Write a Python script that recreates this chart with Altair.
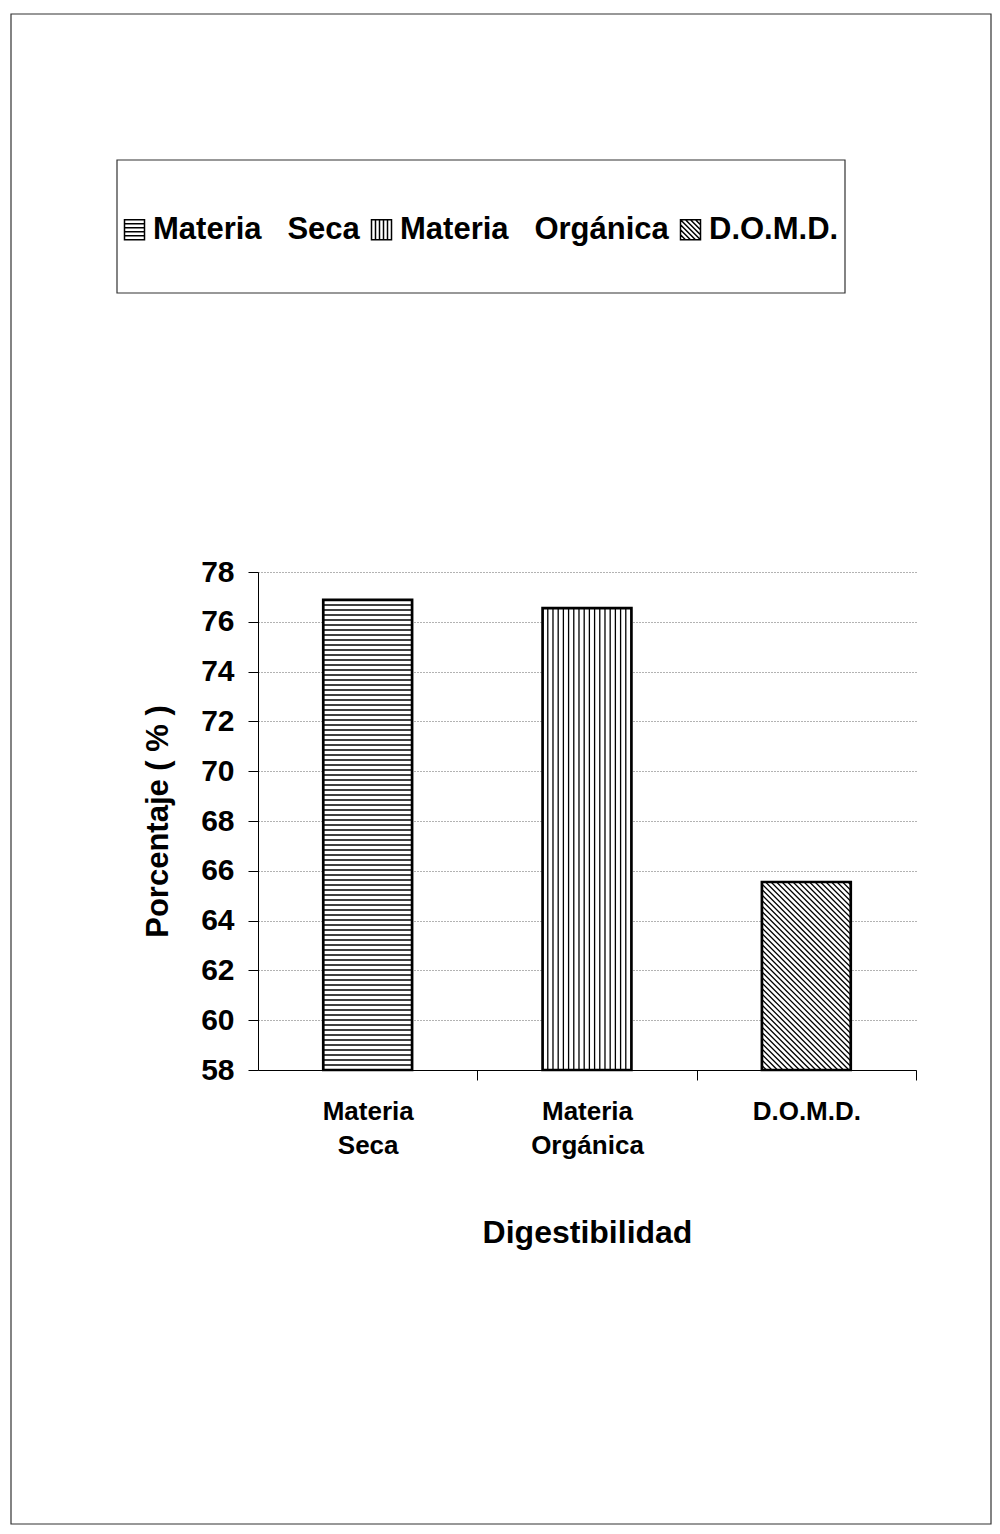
import altair as alt
import numpy as np
import pandas as pd

# ---- data ----
CATS = ["Materia Seca", "Materia Orgánica", "D.O.M.D."]
VALUES = [76.88, 76.55, 65.55]
Y_TICKS = [58, 60, 62, 64, 66, 68, 70, 72, 74, 76, 78]
X_TITLE = "Digestibilidad"
Y_TITLE = "Porcentaje ( % )"

# ---- style ----
PATTERNS = ["horizontal", "vertical", "diagonal"]
W, H = 658, 498
PAD = {"left": 250, "top": 564, "right": 76, "bottom": 455}
PAD_INNER = 0.595
FONT = "Liberation Sans"
Y_MIN, Y_MAX = Y_TICKS[0], Y_TICKS[-1]
N = len(CATS)
KX = W / N                      # px per x-unit of the hatch scale
KY = H / (Y_MAX - Y_MIN)        # px per y-unit

# legend symbols (unit square paths with the same hatching)
SYMBOL_PATHS = {
    "horizontal": "M-1,-1H1V1H-1Z M-1,-0.6H1 M-1,-0.2H1 M-1,0.2H1 M-1,0.6H1",
    "vertical": "M-1,-1H1V1H-1Z M-0.6,-1V1 M-0.2,-1V1 M0.2,-1V1 M0.6,-1V1",
    "diagonal": ("M-1,-1H1V1H-1Z M-1,-1L1,1 M-1,-0.5L0.5,1 M-1,0L0,1 M-1,0.5L-0.5,1 "
                 "M-0.5,-1L1,0.5 M0,-1L1,0 M0.5,-1L1,-0.5"),
}

df = pd.DataFrame({"cat": CATS, "value": VALUES})

# ---- hatch lines derived from the bar values ----
rows = []
for i, (v, pat) in enumerate(zip(VALUES, PATTERNS)):
    u0 = i + PAD_INNER / 2
    u1 = i + 1 - PAD_INNER / 2
    xL, xR = u0 * KX, u1 * KX
    yT, yB = (Y_MAX - v) * KY, H
    if pat == "horizontal":
        s = 5.0
        yy = yB - s
        while yy > yT + 1.5:
            rows.append(dict(u=u0, u2=u1, y=Y_MAX - yy / KY, y2=Y_MAX - yy / KY))
            yy -= s
    elif pat == "vertical":
        s = 5.2
        xx = xL + s
        while xx < xR - 1.5:
            rows.append(dict(u=xx / KX, u2=xx / KX, y=Y_MIN, y2=v))
            xx += s
    else:
        s = 5.5
        c = yT - xR + s / 2
        while c < yB - xL:
            xs = max(xL, yT - c)
            xe = min(xR, yB - c)
            if xe > xs:
                rows.append(dict(u=xs / KX, u2=xe / KX,
                                 y=Y_MAX - (xs + c) / KY, y2=Y_MAX - (xe + c) / KY))
            c += s
hatch = pd.DataFrame(rows)

yscale = alt.Scale(domain=[Y_MIN, Y_MAX], nice=False, zero=False)
xscale = alt.Scale(domain=CATS, paddingInner=PAD_INNER, paddingOuter=PAD_INNER / 2)
STEP = W / N

y_axis = alt.Axis(
    values=Y_TICKS, title=Y_TITLE, grid=True, gridDash=[1, 2], gridColor="#666",
    gridWidth=1, labelFont=FONT, labelFontSize=30, labelFontWeight="bold",
    labelColor="black", labelPadding=14, tickSize=10, tickColor="black",
    domainColor="black", titleFont=FONT, titleFontSize=31, titleFontWeight="bold",
    titleColor="black", titlePadding=26,
)
x_axis = alt.Axis(
    title=X_TITLE, labelExpr="split(datum.label, ' ')", labelAngle=0,
    tickOffset=STEP / 2, labelOffset=-STEP / 2,
    labelFont=FONT, labelFontSize=26, labelFontWeight="bold",
    labelColor="black", labelLineHeight=34, labelPadding=18, tickSize=10,
    tickColor="black", domainColor="black", titleFont=FONT, titleFontSize=32,
    titleFontWeight="bold", titleColor="black", titlePadding=59, labelLimit=300,
)

base = alt.Chart(df)

fill_layer = base.mark_bar(fill="white", strokeWidth=0).encode(
    x=alt.X("cat:N", sort=CATS, scale=xscale, axis=x_axis),
    y=alt.Y("value:Q", scale=yscale, axis=y_axis),
    y2=alt.datum(Y_MIN),
)

hatch_layer = alt.Chart(hatch).mark_rule(color="black", strokeWidth=1.3).encode(
    x=alt.X("u:Q", scale=alt.Scale(domain=[0, N], nice=False, zero=False), axis=None),
    x2="u2:Q",
    y=alt.Y("y:Q", scale=yscale, axis=y_axis),
    y2="y2:Q",
)

outline_layer = base.mark_bar(fillOpacity=0, stroke="black", strokeWidth=2.7).encode(
    x=alt.X("cat:N", sort=CATS, scale=xscale, axis=None),
    y=alt.Y("value:Q", scale=yscale, axis=y_axis),
    y2=alt.datum(Y_MIN),
)

legend_layer = base.mark_point(opacity=0, color="black").encode(
    x=alt.X("cat:N", sort=CATS, scale=xscale, axis=None),
    y=alt.Y("value:Q", scale=yscale, axis=y_axis),
    shape=alt.Shape(
        "cat:N", sort=CATS,
        scale=alt.Scale(domain=CATS, range=[SYMBOL_PATHS[p] for p in PATTERNS]),
        legend=alt.Legend(
            orient="none", legendX=-139, legendY=-358, direction="horizontal",
            columns=3, title=None, padding=0, labelFont=FONT, labelFontSize=31,
            labelFontWeight="bold", labelColor="black", labelLimit=1000,
            labelOffset=3, columnPadding=6, symbolSize=400,
            symbolStrokeWidth=1.5, symbolStrokeColor="black",
            symbolFillColor="white", symbolOpacity=1,
            labelExpr="replace(datum.label, ' ', '\u00a0\u00a0\u00a0')",
        ),
    ),
)

one = alt.Data(values=[{"k": 0}])
frame_layer = alt.Chart(one).mark_rect(fillOpacity=0, stroke="#333", strokeWidth=1.2).encode(
    x=alt.value(-247), x2=alt.value(733), y=alt.value(-558), y2=alt.value(952),
)
legend_box = alt.Chart(one).mark_rect(fillOpacity=0, stroke="#333", strokeWidth=1.2).encode(
    x=alt.value(-141), x2=alt.value(587), y=alt.value(-412), y2=alt.value(-279),
)

chart = (
    alt.layer(frame_layer, legend_box, fill_layer, hatch_layer, outline_layer, legend_layer)
    .resolve_scale(x="independent")
    .properties(width=W, height=H, padding=PAD, background="white",
                autosize=alt.AutoSizeParams(type="none"))
    .configure_view(stroke=None)
)

chart.save("out.html", embed_options={"renderer": "svg", "actions": False})
